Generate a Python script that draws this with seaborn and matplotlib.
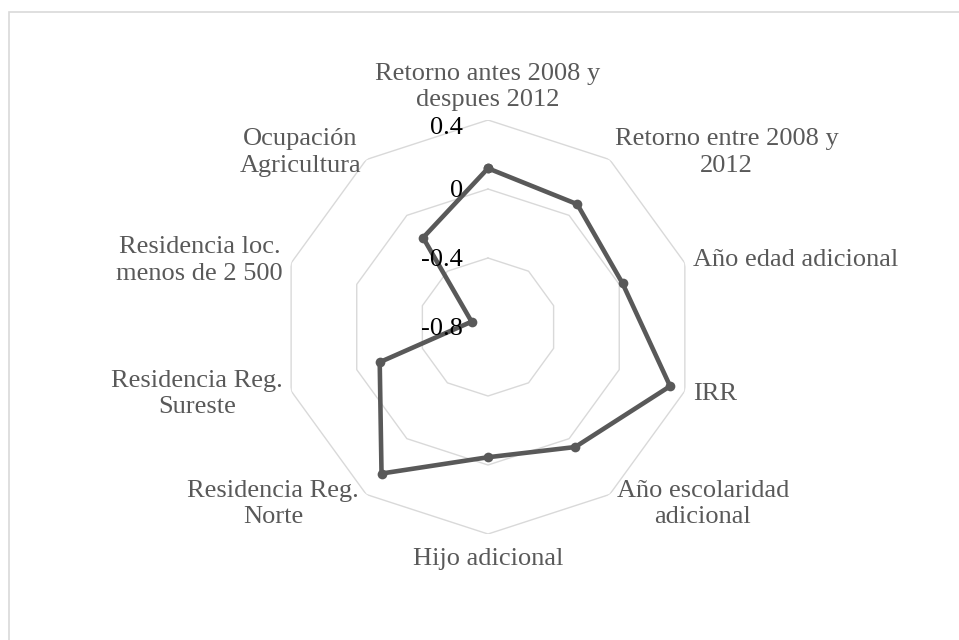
import numpy as np
import pandas as pd
import seaborn as sns
import matplotlib.pyplot as plt
from matplotlib.patches import Rectangle

categories = [
    "Retorno antes 2008 y\ndespues 2012",
    "Retorno entre 2008 y\n2012",
    "Año edad adicional",
    "IRR",
    "Año escolaridad\nadicional",
    "Hijo adicional",
    "Residencia Reg.\nNorte",
    "Residencia Reg.\nSureste",
    "Residencia loc.\nmenos de 2 500",
    "Ocupación\nAgricultura",
]
values = [0.12, 0.08, 0.02, 0.31, 0.06, -0.045, 0.25, -0.14, -0.70, -0.16]
ring_levels = [-0.4, 0.0, 0.4]
tick_levels = [0.4, 0.0, -0.4, -0.8]
tick_labels = ["0.4", "0", "-0.4", "-0.8"]

line_color = "#595959"
grid_color = "#d9d9d9"

sns.set_theme(style="white")
plt.rcParams["font.family"] = ["Liberation Serif", "DejaVu Serif"]

n = len(categories)
theta = np.arange(n) * 2 * np.pi / n
theta_closed = np.append(theta, 2 * np.pi)

df = pd.DataFrame({
    "theta": theta_closed,
    "value": values + [values[0]],
})

fig = plt.figure(figsize=(9.59, 6.4), dpi=100)
fig.patches.append(Rectangle((9 / 959, -0.05), 1.1, 1.05 - 12 / 640,
                             transform=fig.transFigure, fill=False,
                             edgecolor=grid_color, lw=1.2))

ax = fig.add_axes([0.2930, 0.1656, 0.4317, 0.6469], projection="polar")
ax.set_theta_offset(np.pi / 2)
ax.set_theta_direction(-1)
ax.set_ylim(-0.8, 0.4)
ax.grid(False)
ax.set_xticks([])
ax.set_yticks([])
ax.spines["polar"].set_visible(False)
ax.patch.set_alpha(0)

# decagon rings
for lvl in ring_levels:
    ax.plot(theta_closed, [lvl] * (n + 1), color=grid_color, lw=1.0, zorder=1)

sns.lineplot(data=df, x="theta", y="value", sort=False, estimator=None,
             color=line_color, lw=3.3, marker="o", markersize=7,
             markeredgewidth=0, ax=ax, zorder=3)
ax.set_xlabel("")
ax.set_ylabel("")

# radial tick labels
for lvl, lab in zip(tick_levels, tick_labels):
    dy = -8 if lvl == 0.4 else -2
    ax.annotate(lab, xy=(0, lvl), xytext=(-25, dy), textcoords="offset pixels",
                ha="right", va="center", fontsize=19, color="black",
                annotation_clip=False)

# category labels
for t, lab in zip(theta, categories):
    s, c = np.sin(t), np.cos(t)
    ha = "left" if s > 0.1 else ("right" if s < -0.1 else "center")
    r = 0.45
    if abs(s) < 0.1:
        va = "bottom" if c > 0 else "top"
        if c < 0:
            r = 0.48
    else:
        va = "center"
        if c < -0.5:
            r = 0.47
    ax.text(t, r, lab, ha=ha, va=va, ma="center", fontsize=19,
            color=line_color, linespacing=1.25)

fig.savefig("out.png", dpi=100)
